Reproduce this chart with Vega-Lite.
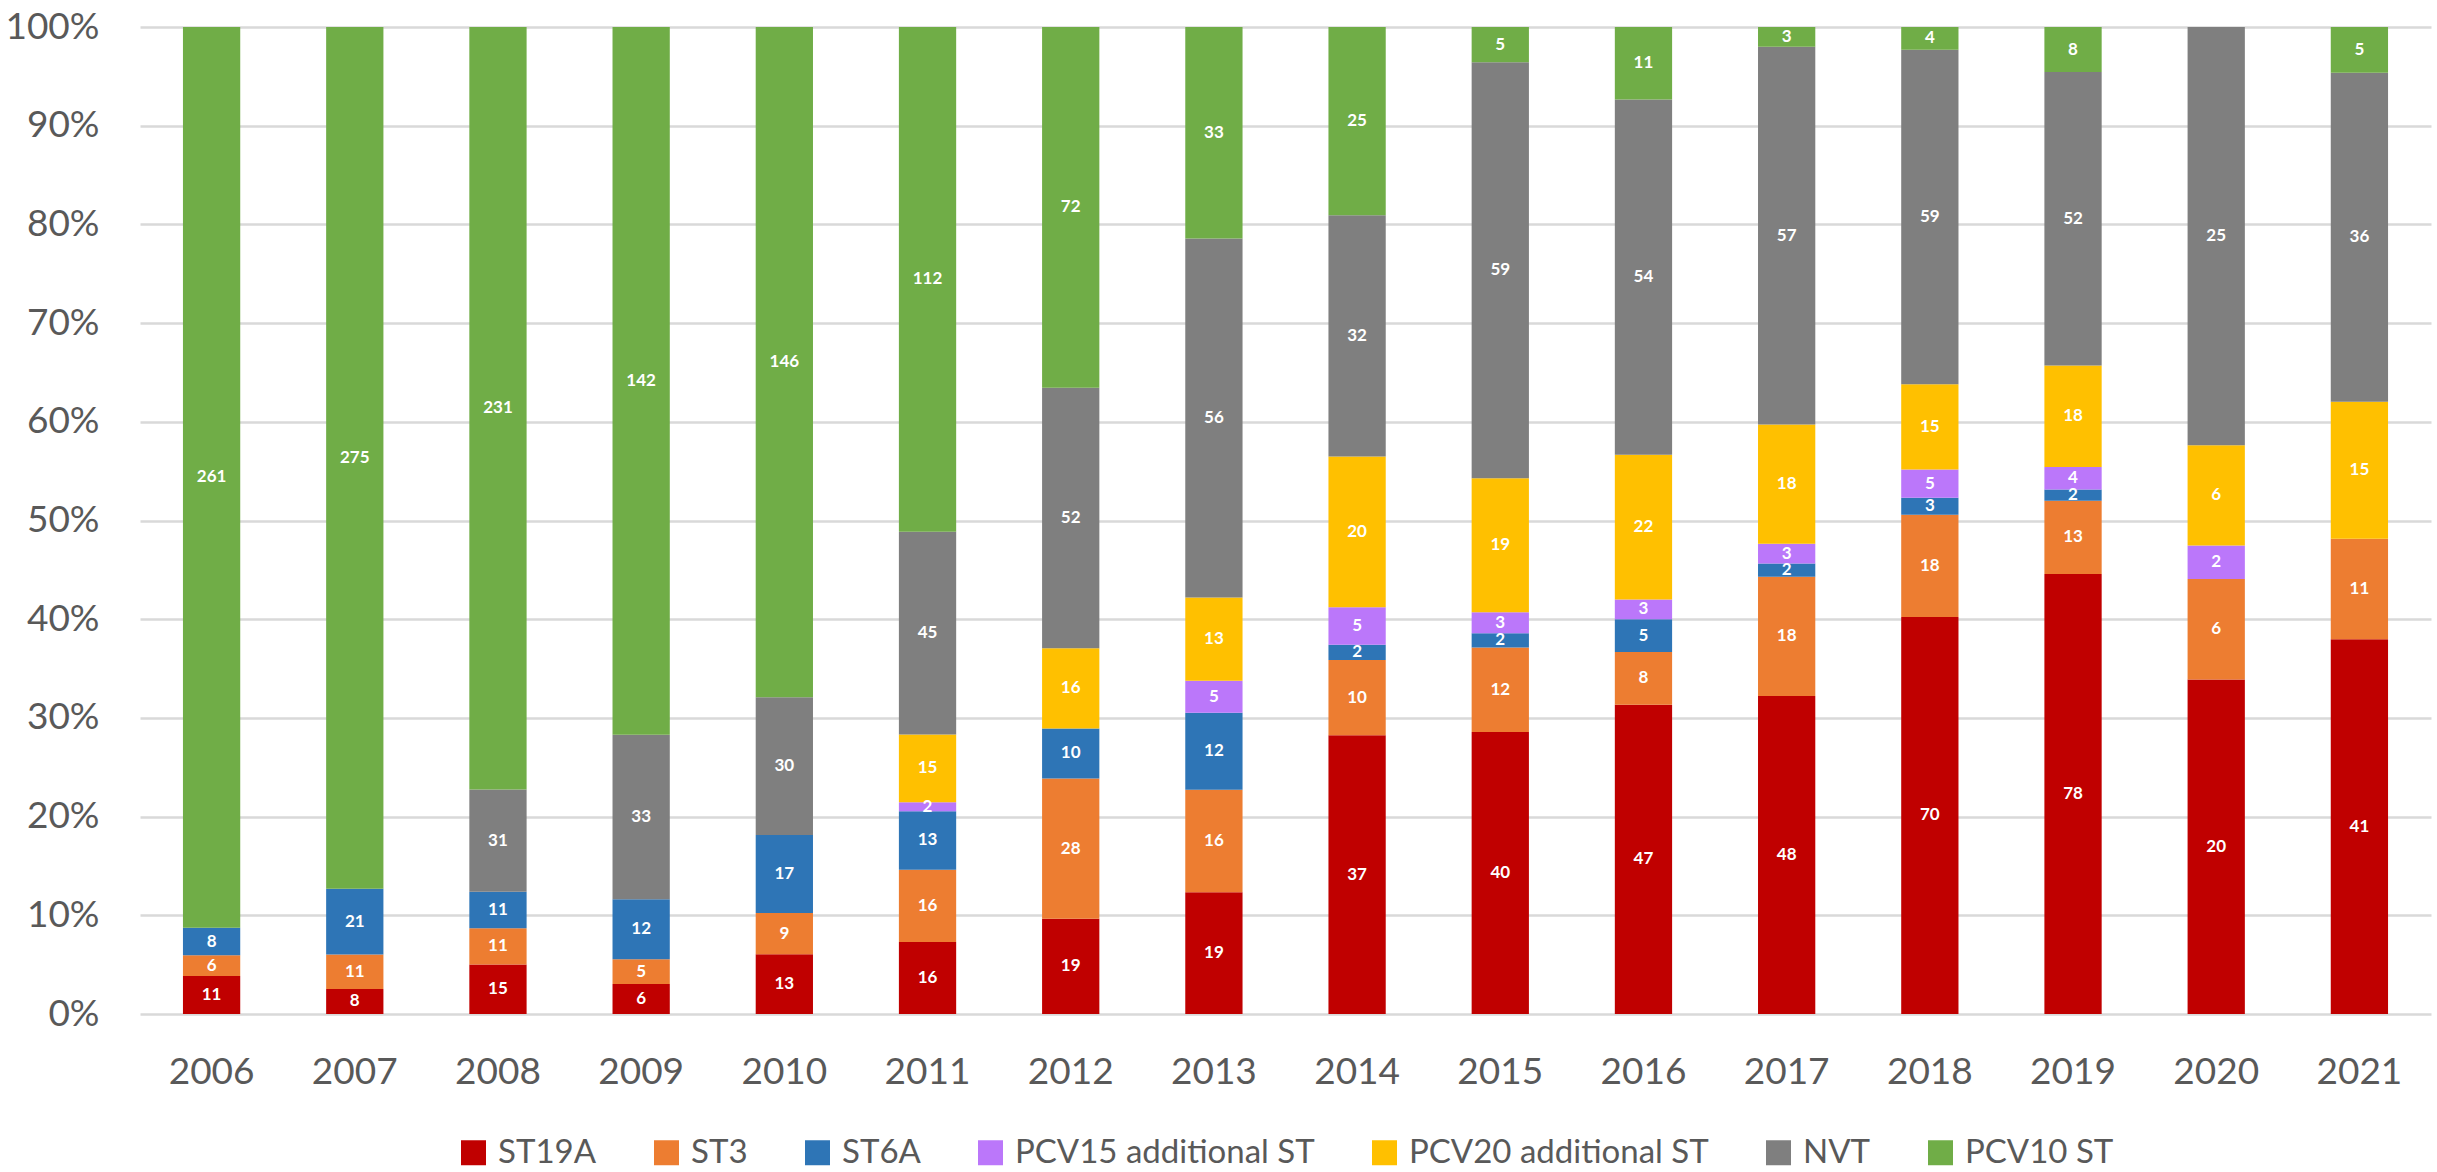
{
  "$schema": "https://vega.github.io/schema/vega-lite/v6.json",
  "width": 2437,
  "height": 1172,
  "autosize": {"type": "fit", "contains": "padding"},
  "padding": {"left": 4, "top": 8, "right": 6, "bottom": 2},
  "background": "white",
  "data": {
    "values": [
      {"year": "2006", "serotype": "ST19A", "n": 11},
      {"year": "2006", "serotype": "ST3", "n": 6},
      {"year": "2006", "serotype": "ST6A", "n": 8},
      {"year": "2006", "serotype": "PCV10 ST", "n": 261},
      {"year": "2007", "serotype": "ST19A", "n": 8},
      {"year": "2007", "serotype": "ST3", "n": 11},
      {"year": "2007", "serotype": "ST6A", "n": 21},
      {"year": "2007", "serotype": "PCV10 ST", "n": 275},
      {"year": "2008", "serotype": "ST19A", "n": 15},
      {"year": "2008", "serotype": "ST3", "n": 11},
      {"year": "2008", "serotype": "ST6A", "n": 11},
      {"year": "2008", "serotype": "NVT", "n": 31},
      {"year": "2008", "serotype": "PCV10 ST", "n": 231},
      {"year": "2009", "serotype": "ST19A", "n": 6},
      {"year": "2009", "serotype": "ST3", "n": 5},
      {"year": "2009", "serotype": "ST6A", "n": 12},
      {"year": "2009", "serotype": "NVT", "n": 33},
      {"year": "2009", "serotype": "PCV10 ST", "n": 142},
      {"year": "2010", "serotype": "ST19A", "n": 13},
      {"year": "2010", "serotype": "ST3", "n": 9},
      {"year": "2010", "serotype": "ST6A", "n": 17},
      {"year": "2010", "serotype": "NVT", "n": 30},
      {"year": "2010", "serotype": "PCV10 ST", "n": 146},
      {"year": "2011", "serotype": "ST19A", "n": 16},
      {"year": "2011", "serotype": "ST3", "n": 16},
      {"year": "2011", "serotype": "ST6A", "n": 13},
      {"year": "2011", "serotype": "PCV15 additional ST", "n": 2},
      {"year": "2011", "serotype": "PCV20 additional ST", "n": 15},
      {"year": "2011", "serotype": "NVT", "n": 45},
      {"year": "2011", "serotype": "PCV10 ST", "n": 112},
      {"year": "2012", "serotype": "ST19A", "n": 19},
      {"year": "2012", "serotype": "ST3", "n": 28},
      {"year": "2012", "serotype": "ST6A", "n": 10},
      {"year": "2012", "serotype": "PCV20 additional ST", "n": 16},
      {"year": "2012", "serotype": "NVT", "n": 52},
      {"year": "2012", "serotype": "PCV10 ST", "n": 72},
      {"year": "2013", "serotype": "ST19A", "n": 19},
      {"year": "2013", "serotype": "ST3", "n": 16},
      {"year": "2013", "serotype": "ST6A", "n": 12},
      {"year": "2013", "serotype": "PCV15 additional ST", "n": 5},
      {"year": "2013", "serotype": "PCV20 additional ST", "n": 13},
      {"year": "2013", "serotype": "NVT", "n": 56},
      {"year": "2013", "serotype": "PCV10 ST", "n": 33},
      {"year": "2014", "serotype": "ST19A", "n": 37},
      {"year": "2014", "serotype": "ST3", "n": 10},
      {"year": "2014", "serotype": "ST6A", "n": 2},
      {"year": "2014", "serotype": "PCV15 additional ST", "n": 5},
      {"year": "2014", "serotype": "PCV20 additional ST", "n": 20},
      {"year": "2014", "serotype": "NVT", "n": 32},
      {"year": "2014", "serotype": "PCV10 ST", "n": 25},
      {"year": "2015", "serotype": "ST19A", "n": 40},
      {"year": "2015", "serotype": "ST3", "n": 12},
      {"year": "2015", "serotype": "ST6A", "n": 2},
      {"year": "2015", "serotype": "PCV15 additional ST", "n": 3},
      {"year": "2015", "serotype": "PCV20 additional ST", "n": 19},
      {"year": "2015", "serotype": "NVT", "n": 59},
      {"year": "2015", "serotype": "PCV10 ST", "n": 5},
      {"year": "2016", "serotype": "ST19A", "n": 47},
      {"year": "2016", "serotype": "ST3", "n": 8},
      {"year": "2016", "serotype": "ST6A", "n": 5},
      {"year": "2016", "serotype": "PCV15 additional ST", "n": 3},
      {"year": "2016", "serotype": "PCV20 additional ST", "n": 22},
      {"year": "2016", "serotype": "NVT", "n": 54},
      {"year": "2016", "serotype": "PCV10 ST", "n": 11},
      {"year": "2017", "serotype": "ST19A", "n": 48},
      {"year": "2017", "serotype": "ST3", "n": 18},
      {"year": "2017", "serotype": "ST6A", "n": 2},
      {"year": "2017", "serotype": "PCV15 additional ST", "n": 3},
      {"year": "2017", "serotype": "PCV20 additional ST", "n": 18},
      {"year": "2017", "serotype": "NVT", "n": 57},
      {"year": "2017", "serotype": "PCV10 ST", "n": 3},
      {"year": "2018", "serotype": "ST19A", "n": 70},
      {"year": "2018", "serotype": "ST3", "n": 18},
      {"year": "2018", "serotype": "ST6A", "n": 3},
      {"year": "2018", "serotype": "PCV15 additional ST", "n": 5},
      {"year": "2018", "serotype": "PCV20 additional ST", "n": 15},
      {"year": "2018", "serotype": "NVT", "n": 59},
      {"year": "2018", "serotype": "PCV10 ST", "n": 4},
      {"year": "2019", "serotype": "ST19A", "n": 78},
      {"year": "2019", "serotype": "ST3", "n": 13},
      {"year": "2019", "serotype": "ST6A", "n": 2},
      {"year": "2019", "serotype": "PCV15 additional ST", "n": 4},
      {"year": "2019", "serotype": "PCV20 additional ST", "n": 18},
      {"year": "2019", "serotype": "NVT", "n": 52},
      {"year": "2019", "serotype": "PCV10 ST", "n": 8},
      {"year": "2020", "serotype": "ST19A", "n": 20},
      {"year": "2020", "serotype": "ST3", "n": 6},
      {"year": "2020", "serotype": "PCV15 additional ST", "n": 2},
      {"year": "2020", "serotype": "PCV20 additional ST", "n": 6},
      {"year": "2020", "serotype": "NVT", "n": 25},
      {"year": "2021", "serotype": "ST19A", "n": 41},
      {"year": "2021", "serotype": "ST3", "n": 11},
      {"year": "2021", "serotype": "PCV20 additional ST", "n": 15},
      {"year": "2021", "serotype": "NVT", "n": 36},
      {"year": "2021", "serotype": "PCV10 ST", "n": 5}
    ]
  },
  "transform": [
    {"calculate": "indexof(['ST19A', 'ST3', 'ST6A', 'PCV15 additional ST', 'PCV20 additional ST', 'NVT', 'PCV10 ST'], datum.serotype)", "as": "rank"}
  ],
  "encoding": {
    "x": {
      "field": "year",
      "type": "ordinal",
      "title": null,
      "scale": {"paddingInner": 0.6, "paddingOuter": 0.3},
      "axis": {
        "labelAngle": 0,
        "labelFont": "Lato",
        "labelFontSize": 37,
        "labelColor": "#595959",
        "labelPadding": 40,
        "ticks": false,
        "domain": false
      }
    },
    "y": {
      "field": "n",
      "type": "quantitative",
      "stack": "normalize",
      "title": null,
      "scale": {"domain": [0, 1]},
      "axis": {
        "values": [0, 0.1, 0.2, 0.3, 0.4, 0.5, 0.6, 0.7, 0.8, 0.9, 1],
        "format": ".0%",
        "labelFont": "Lato",
        "labelFontSize": 37,
        "labelColor": "#595959",
        "labelPadding": 41,
        "ticks": false,
        "domain": false,
        "gridColor": "#D9D9D9",
        "gridWidth": 2.5
      }
    },
    "order": {"field": "rank", "type": "quantitative", "sort": "ascending"},
    "color": {
      "field": "serotype",
      "type": "nominal",
      "sort": ["ST19A", "ST3", "ST6A", "PCV15 additional ST", "PCV20 additional ST", "NVT", "PCV10 ST"],
      "scale": {
        "domain": ["ST19A", "ST3", "ST6A", "PCV15 additional ST", "PCV20 additional ST", "NVT", "PCV10 ST"],
        "range": ["#C00000", "#ED7D31", "#2E75B6", "#BB77FA", "#FFC000", "#7F7F7F", "#70AD47"]
      },
      "legend": {
        "orient": "bottom",
        "direction": "horizontal",
        "title": null,
        "symbolType": "square",
        "symbolSize": 625,
        "symbolStrokeWidth": 0,
        "labelFont": "Lato",
        "labelFontSize": 33,
        "labelColor": "#595959",
        "labelOffset": 8,
        "labelLimit": 0,
        "columnPadding": 53,
        "offset": 46
      }
    }
  },
  "layer": [
    {"mark": {"type": "bar"}},
    {
      "mark": {"type": "text", "font": "Lato", "fontWeight": "bold", "fontSize": 17, "baseline": "middle"},
      "encoding": {
        "y": {"field": "n", "type": "quantitative", "stack": "normalize", "bandPosition": 0.5},
        "text": {"field": "n", "type": "quantitative"},
        "fill": {"value": "white"}
      }
    }
  ],
  "config": {
    "view": {"stroke": null},
    "legend": {"layout": {"bottom": {"anchor": "middle"}}}
  }
}
